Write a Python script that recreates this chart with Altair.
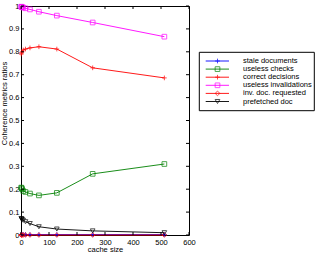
import altair as alt
import pandas as pd

cache_size = [1, 2, 4, 8, 16, 32, 64, 128, 256, 512]
stale_documents = [0.002, 0.002, 0.002, 0.002, 0.002, 0.002, 0.002, 0.002, 0.002, 0.002]
useless_checks = [0.207, 0.205, 0.200, 0.192, 0.188, 0.181, 0.173, 0.184, 0.267, 0.310]
correct_decisions = [0.790, 0.795, 0.800, 0.808, 0.812, 0.817, 0.822, 0.812, 0.730, 0.686]
useless_invalidations = [0.997, 0.996, 0.995, 0.993, 0.990, 0.985, 0.975, 0.958, 0.928, 0.866]
inv_doc_requested = [0.0, 0.0, 0.0, 0.0, 0.0, 0.0, 0.0, 0.0, 0.0, 0.0]
prefetched_doc = [0.072, 0.070, 0.068, 0.064, 0.058, 0.050, 0.036, 0.026, 0.018, 0.010]

names = ["stale documents", "useless checks", "correct decisions",
         "useless invalidations", "inv. doc. requested", "prefetched doc"]
colors = ["#0000ff", "#008000", "#ff0000", "#ff00ff", "#ff0000", "#000000"]
plus = "M-1,0L1,0M0,-1L0,1"
shapes = [plus, "square", plus, "square", "diamond", "triangle-down"]
widths = [1, 1, 1.6, 1, 1, 1]
series_values = [stale_documents, useless_checks, correct_decisions,
                 useless_invalidations, inv_doc_requested, prefetched_doc]

x_ticks = [0, 100, 200, 300, 400, 500, 600]
y_ticks = [0, 0.1, 0.2, 0.3, 0.4, 0.5, 0.6, 0.7, 0.8, 0.9, 1.0]

W, H = 168, 229
FONT = "Liberation Sans"

rows = []
for n, vals in zip(names, series_values):
    for c, v in zip(cache_size, vals):
        rows.append({"series": n, "cache": c, "value": v})
df = pd.DataFrame(rows)
df_top = df[df["series"] == "inv. doc. requested"]
df_rest = df[df["series"] != "inv. doc. requested"]

color = alt.Color("series:N", scale=alt.Scale(domain=names, range=colors), legend=None)
shape = alt.Shape("series:N", scale=alt.Scale(domain=names, range=shapes), legend=None)
sw = alt.StrokeWidth("series:N", scale=alt.Scale(domain=names, range=widths), legend=None)

xs = alt.Scale(domain=[0, 600], nice=False)
ys = alt.Scale(domain=[0, 1], nice=False)

xaxis = alt.Axis(values=x_ticks, format="d", title="cache size", titlePadding=0, labelPadding=3)
yaxis = alt.Axis(values=y_ticks, format="~g", title="Coherence metrics ratios", labelPadding=2,
                 titleX=-13, titleY=97, titleBaseline="bottom", titleAngle=270)

lines = alt.Chart(df_rest).mark_line(strokeWidth=0.9).encode(
    x=alt.X("cache:Q", scale=xs, axis=xaxis),
    y=alt.Y("value:Q", scale=ys, axis=yaxis),
    color=color, detail="series:N", order="cache:Q",
)
lines_top = alt.Chart(df_top).mark_line(strokeWidth=0.9).encode(
    x=alt.X("cache:Q", scale=xs, axis=xaxis),
    y=alt.Y("value:Q", scale=ys, axis=yaxis),
    color=color, detail="series:N", order="cache:Q",
)
points = alt.Chart(df).mark_point(filled=False, size=22).encode(
    x=alt.X("cache:Q", scale=xs, axis=xaxis),
    y=alt.Y("value:Q", scale=ys, axis=yaxis),
    color=color, shape=shape, strokeWidth=sw,
)

tick_x_df = pd.DataFrame({"cache": x_ticks})
tick_y_df = pd.DataFrame({"value": y_ticks})
tb = alt.Chart(tick_x_df).mark_rule(color="black", strokeWidth=1).encode(
    x=alt.X("cache:Q", scale=xs, axis=xaxis), y=alt.value(H), y2=alt.value(H - 3))
tt = alt.Chart(tick_x_df).mark_rule(color="black", strokeWidth=1).encode(
    x=alt.X("cache:Q", scale=xs, axis=xaxis), y=alt.value(0), y2=alt.value(3))
tl = alt.Chart(tick_y_df).mark_rule(color="black", strokeWidth=1).encode(
    y=alt.Y("value:Q", scale=ys, axis=yaxis), x=alt.value(0), x2=alt.value(3))
tr = alt.Chart(tick_y_df).mark_rule(color="black", strokeWidth=1).encode(
    y=alt.Y("value:Q", scale=ys, axis=yaxis), x=alt.value(W), x2=alt.value(W - 3))

# legend (drawn inside the view, rows from the series names)
one = pd.DataFrame({"a": [0]})
box = alt.Chart(one).mark_rect(fill="white", stroke="black", strokeWidth=1).encode(
    x=alt.value(178.3), x2=alt.value(293.3), y=alt.value(46.3), y2=alt.value(104.7))
legend_layers = [box]
for i, n in enumerate(names):
    yp = 55 + 8.1 * i
    rd = pd.DataFrame({"series": [n]})
    legend_layers.append(alt.Chart(rd).mark_rule(strokeWidth=0.9).encode(
        x=alt.value(184.7), x2=alt.value(208), y=alt.value(yp), color=color))
    legend_layers.append(alt.Chart(rd).mark_point(filled=False, size=22).encode(
        x=alt.value(196.5), y=alt.value(yp), color=color, shape=shape, strokeWidth=sw))
    legend_layers.append(alt.Chart(rd).mark_text(align="left", baseline="middle", font=FONT,
                                                 fontSize=7.5, color="black").encode(
        x=alt.value(222), y=alt.value(yp), text="series:N"))

chart = alt.layer(lines, lines_top, points, tb, tt, tl, tr, *legend_layers).properties(
    width=W, height=H,
    background="white",
    autosize=alt.AutoSizeParams(type="none"),
    padding={"left": 21, "top": 6, "right": 128, "bottom": 18},
).configure_view(stroke="black", strokeWidth=1).configure_axis(
    labelOverlap=False, labelFlush=False, labelBound=False, tickSize=0, grid=False,
    domain=False, labelFont=FONT, labelFontSize=7.5, labelColor="black",
    titleFont=FONT, titleFontSize=7.5, titleFontWeight="normal", titleColor="black",
)

chart.save("out.html", embed_options={"renderer": "svg", "actions": False})
